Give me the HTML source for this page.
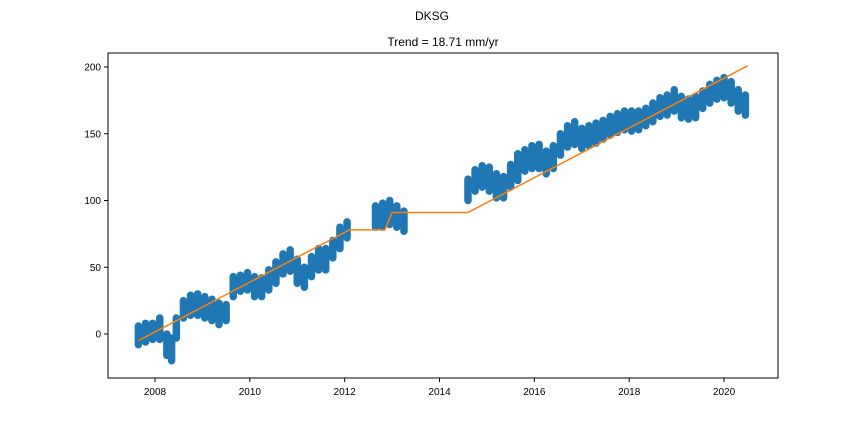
<!DOCTYPE html>
<html><head><meta charset="utf-8"><style>
body{margin:0;background:#fff;}
svg{display:block;font-family:"Liberation Sans",sans-serif;}
</style></head><body>
<svg id="chart" width="864" height="432"></svg>
<script>
const dates=[2007.65,2007.8,2007.95,2008.1,2008.25,2008.35,2008.45,2008.6,2008.75,2008.9,2009.05,2009.2,2009.35,2009.5,2009.65,2009.8,2009.95,2010.1,2010.25,2010.4,2010.55,2010.7,2010.85,2011.0,2011.15,2011.3,2011.45,2011.6,2011.75,2011.9,2012.05,
2012.65,2012.8,2012.95,2013.1,2013.25,
2014.6,2014.75,2014.9,2015.05,2015.2,2015.35,2015.5,2015.65,2015.8,2015.95,2016.1,2016.25,2016.4,2016.55,2016.7,2016.85,2017.0,2017.15,2017.3,2017.45,2017.6,2017.75,2017.9,2018.05,2018.2,2018.35,2018.5,2018.65,2018.8,2018.95,2019.1,2019.25,2019.4,2019.55,2019.7,2019.85,2020.0,2020.15,2020.3,2020.45];
const values=[-2,0,2,3,-8,-12,5,18,22,22,20,18,15,15,35,38,40,36,35,40,45,52,55,48,42,50,55,55,62,72,78,
88,88,92,88,85,
108,115,118,115,110,110,118,125,130,133,133,128,132,142,148,150,146,148,150,152,155,158,160,160,160,162,166,170,172,175,170,168,170,175,180,183,185,182,176,172];
const lows=[-8,-6,-4,-4,-16,-20,-3,12,14,14,12,10,7,10,28,32,33,28,28,33,38,45,47,38,35,43,48,48,57,64,72,
80,80,82,80,77,
100,107,110,107,102,102,110,115,122,124,124,120,124,134,140,142,139,141,143,146,149,151,153,152,153,156,159,163,164,167,162,161,162,169,173,176,177,173,167,164];
const highs=[6,8,8,12,0,-3,12,25,29,30,28,26,23,22,43,44,46,43,42,48,54,60,63,56,50,58,64,64,70,80,84,
96,98,100,96,92,
116,123,126,125,120,118,127,135,138,141,142,137,141,150,156,159,154,156,158,160,163,165,167,167,167,169,173,177,179,183,178,176,178,182,187,190,192,189,183,179];
const trendX=[2007.65,2012.1,2012.85,2013.0,2014.6,2020.5];
const trendY=[-5,78,78,91,91,201];
const xTicks=[2008,2010,2012,2014,2016,2018,2020];
const yTicks=[0,50,100,150,200];

const NS="http://www.w3.org/2000/svg";
const svg=document.getElementById('chart');
const L=108,R=778,T=53,B=378;
const xs=d=>155+(d-2008)*47.42;
const ys=v=>334-v*1.335;
function mk(tag,attrs,parent){const e=document.createElementNS(NS,tag);for(const k in attrs)e.setAttribute(k,attrs[k]);(parent||svg).appendChild(e);return e;}

const t1=mk('text',{x:432,y:20,'text-anchor':'middle','font-size':12,fill:'#000'});
t1.textContent='DKSG';


const t2=mk('text',{x:443,y:46,'text-anchor':'middle','font-size':12,fill:'#000'});
t2.textContent='Trend = 18.71 mm/yr';



const g=mk('g',{});


for(let i=0;i<dates.length;i++){
  const x=xs(dates[i]);
  const band=mk('line',{x1:x,x2:x,y1:ys(lows[i]),y2:ys(highs[i]),stroke:'#1f77b4','stroke-width':7.5,'stroke-linecap':'round'},g);
  
  
  const c=mk('circle',{cx:x,cy:ys(values[i]),r:3.5,fill:'#1f77b4'},g);
  
  
}
const pts=trendX.map((d,i)=>xs(d)+','+ys(trendY[i])).join(' ');
const tl=mk('polyline',{points:pts,fill:'none',stroke:'#ff7f0e','stroke-width':1.5});



const frame=mk('rect',{x:L,y:T,width:R-L,height:B-T,fill:'none',stroke:'#000','stroke-width':1});


xTicks.forEach(d=>{const x=xs(d);
  const tk=mk('line',{x1:x,x2:x,y1:B,y2:B+4,stroke:'#000'});
  
  
  const lb=mk('text',{x:x,y:B+17,'text-anchor':'middle','font-size':10,fill:'#000'});
  lb.textContent=d;
  
  
});
yTicks.forEach(v=>{const y=ys(v);
  const tk=mk('line',{x1:L-4,x2:L,y1:y,y2:y,stroke:'#000'});
  
  
  const lb=mk('text',{x:L-7,y:y+3.5,'text-anchor':'end','font-size':10,fill:'#000'});
  lb.textContent=v;
  
  
});
</script>
</body></html>
